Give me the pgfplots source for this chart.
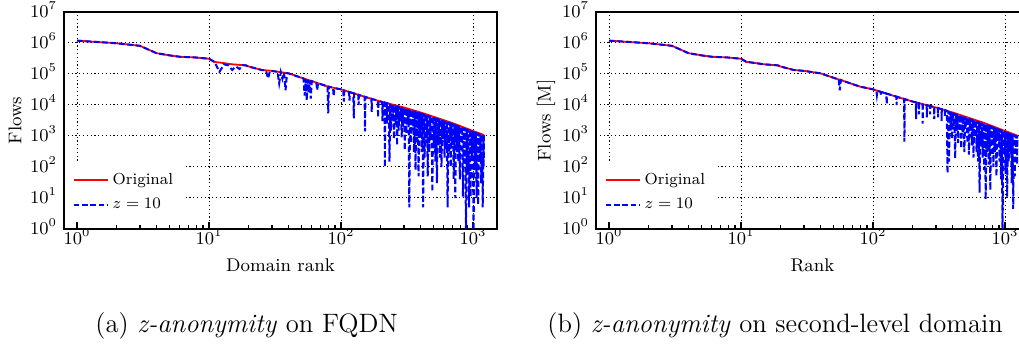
\documentclass[border=0pt]{standalone}
\usepackage{pgfplots}
\pgfplotsset{compat=1.18}
\begin{document}
\begin{tikzpicture}
\begin{axis}[at={(32pt,59pt)}, anchor=south west,
    scale only axis, width=216.5pt, height=108.5pt,
    xmode=log, ymode=log,
    xmin=0.797, xmax=1520, ymin=1, ymax=1e7,
    xtick={1,10,100,1000},
    ytick={1,10,100,1000,10000,100000,1000000,10000000},
    yminorticks=false,
    grid=major,
    major grid style={black, line width=0.5pt, dash pattern=on 0.6pt off 1.3pt},
    axis line style={line width=0.9pt},
    tick align=inside, xtick pos=bottom, ytick pos=left,
    major tick length=3.5pt, minor tick length=2pt,
    tick style={black, line width=0.6pt},
    ytick style={draw=none},
    tick label style={font=\fontsize{8.7}{10}\selectfont},
    xticklabel style={anchor=base, yshift=-7.8pt},
    yticklabel style={anchor=base east, yshift=-2.7pt},
    label style={font=\fontsize{9.2}{11}\selectfont},
    xlabel style={at={(axis description cs:0.5,-0.197)}, anchor=base},
    legend style={at={(axis description cs:0.005,0.032)}, anchor=south west,
      draw=none, fill=white, font=\fontsize{8}{9.6}\selectfont,
      inner xsep=3pt, inner ysep=3pt, row sep=1.5pt},
    legend cell align=left,
  xlabel={Domain rank}, ylabel={Flows},
  ylabel style={at={(axis description cs:-0.1132,0.5)}, anchor=center}]
\addplot[red, line width=0.9pt] coordinates {
(1,1190000) (2,980000) (3,810000) (4,470000) (5,400000) (6,360000) (8,340000)
(10,310000) (11,245000) (12,235000) (15,205000) (19,190000) (20,174000)
(25,135000) (30,126000) (40,105000) (50,76000) (60,59000) (80,39000)
(100,32000) (150,18600) (200,12900) (300,8300) (400,5750) (500,4200)
(700,2600) (1000,1450) (1210,1070)};
\addlegendentry{Original}
\addplot[blue, line width=1pt, dash pattern=on 2.8pt off 1.4pt] coordinates {
(1,1190000) (2,980000) (3,810000) (4,470000) (5,400000) (6,360000) (8,340000)
(10,310000) (11,245000) (12,118000) (13,205000) (14,190000) (15,135000)
(16,175000) (17,145000) (18,192000) (19,190000) (20,174000) (25,135000)
(27,131000) (28,72000) (29,128000) (33,118000) (34,50000) (35,114000)
(36,70000) (37,110000) (38,30000) (39,106000) (40,105000) (50,76000)
(52,72000) (53,20000) (54,68000) (55,14000) (56,65000) (57,25000)
(58,62000) (59,16000) (60,59000) (65,52000) (66,30000) (67,50000)
(79,40000) (80,5400) (81,39000) (87,36000) (88,19000) (89,35000)
(100,32000) (104,30000) (105,13000) (106,29300) (115,26300) (116,14000)
(117,25800) (124,23900) (125,3700) (126,23400) (135,21400) (136,10000)
(137,21000) (151,18500) (152,1400) (153,18100) (170,15900) (171,6000)
(172,15600) (190,13800) (191,4000) (192,13600) (200,12900) (205,12500)
(206,3000) (207,12400) (214,12000) (215,100) (216,11900) (222,11500)
(223,2500) (224,11400) (230,11080) (233,150) (236,10770) (239,1500)
(242,10480) (245,3000) (249,10170) (252,800) (256,9870) (259,2500)
(263,9580) (266,500) (270,9320) (273,1500) (277,9060) (281,3000)
(285,8790) (288,900) (292,8560) (296,2000) (300,8320) (304,350)
(308,8040) (312,1200) (317,7750) (321,2500) (325,7510) (329,5)
(334,7250) (338,600) (343,7000) (347,1500) (352,6780) (357,300)
(362,6540) (367,80) (372,6310) (377,700) (382,6100) (387,50)
(392,5900) (397,1000) (403,5690) (408,300) (414,5480) (419,5)
(425,5270) (430,200) (436,5080) (442,600) (448,4890) (454,50)
(460,4710) (466,300) (473,4520) (479,1000) (486,4350) (492,16)
(499,4190) (505,400) (512,4030) (519,150) (526,3880) (533,30)
(540,3730) (547,500) (555,3590) (562,200) (570,3450) (577,100)
(585,3330) (593,800) (601,3200) (609,200) (617,3080) (625,400)
(634,2960) (642,5) (651,2850) (660,300) (669,2740) (678,100)
(687,2640) (696,500) (705,2540) (714,40) (724,2430) (734,10)
(744,2330) (754,300) (764,2230) (774,150) (785,2140) (795,40)
(806,2050) (817,600) (828,1960) (839,11) (850,1880) (861,200)
(873,1800) (885,0.5) (897,1720) (909,60) (921,1650) (933,5)
(946,1580) (958,11) (971,1520) (984,200) (997,1450) (1010,0.5)
(1024,1390) (1038,80) (1052,1340) (1066,10) (1080,1280) (1094,6)
(1109,1230) (1124,150) (1139,1180) (1154,30) (1170,1130) (1185,5)
(1201,1080) (1205,100) (1210,1070)};
\addlegendentry{$z = 10$}
\end{axis}
\begin{axis}[at={(298pt,59pt)}, anchor=south west,
    scale only axis, width=216.5pt, height=108.5pt,
    xmode=log, ymode=log,
    xmin=0.797, xmax=1520, ymin=1, ymax=1e7,
    xtick={1,10,100,1000},
    ytick={1,10,100,1000,10000,100000,1000000,10000000},
    yminorticks=false,
    grid=major,
    major grid style={black, line width=0.5pt, dash pattern=on 0.6pt off 1.3pt},
    axis line style={line width=0.9pt},
    tick align=inside, xtick pos=bottom, ytick pos=left,
    major tick length=3.5pt, minor tick length=2pt,
    tick style={black, line width=0.6pt},
    ytick style={draw=none},
    tick label style={font=\fontsize{8.7}{10}\selectfont},
    xticklabel style={anchor=base, yshift=-7.8pt},
    yticklabel style={anchor=base east, yshift=-2.7pt},
    label style={font=\fontsize{9.2}{11}\selectfont},
    xlabel style={at={(axis description cs:0.5,-0.197)}, anchor=base},
    legend style={at={(axis description cs:0.005,0.032)}, anchor=south west,
      draw=none, fill=white, font=\fontsize{8}{9.6}\selectfont,
      inner xsep=3pt, inner ysep=3pt, row sep=1.5pt},
    legend cell align=left,
  xlabel={Rank}, ylabel={Flows [M]},
  ylabel style={at={(axis description cs:-0.1155,0.5)}, anchor=center}]
\addplot[red, line width=0.9pt] coordinates {
(1,1190000) (2,980000) (3,810000) (4,470000) (5,400000) (6,360000) (8,340000)
(10,310000) (11,245000) (12,235000) (15,205000) (19,190000) (20,174000)
(25,135000) (30,126000) (40,105000) (50,76000) (60,59000) (80,39000)
(100,32000) (150,18600) (200,12900) (300,8300) (400,5750) (500,4200)
(700,2600) (1000,1450) (1240,1030)};
\addlegendentry{Original}
\addplot[blue, line width=1pt, dash pattern=on 2.8pt off 1.4pt] coordinates {
(1,1190000) (2,980000) (3,810000) (4,470000) (5,400000) (6,360000) (8,340000)
(10,310000) (11,245000) (12,235000) (15,205000) (19,190000) (20,174000)
(25,135000) (30,126000) (40,105000) (50,76000) (55,66000) (56,30000)
(57,64000) (60,59000) (80,39000) (100,32000) (106,29300) (107,21000)
(108,29000) (114,26600) (115,21000) (116,26100) (126,23400) (127,10700)
(128,23100) (150,18700) (151,10000) (152,18400) (172,15600) (173,660)
(174,15500) (200,12900) (211,12200) (212,3500) (213,12100) (222,11500)
(223,5000) (224,11400) (237,10800) (238,2500) (239,10700) (255,9900)
(256,4000) (257,9850) (270,9320) (271,5000) (272,9280) (290,8600)
(291,3500) (292,8560) (310,7980) (311,4000) (312,7950) (330,7370)
(331,3000) (332,7300) (350,6800) (351,4500) (352,6780) (362,6540)
(367,63) (372,6310) (377,150) (382,6100) (387,1500) (392,5900)
(397,800) (403,5690) (408,2000) (414,5480) (419,190) (425,5270)
(430,1500) (436,5080) (442,600) (448,4890) (454,2500) (460,4710)
(466,400) (473,4520) (479,1200) (486,4350) (492,300) (499,4190)
(505,2000) (512,4030) (519,600) (526,3880) (533,250) (540,3730)
(547,1500) (555,3590) (562,500) (570,3450) (577,200) (585,3330)
(593,900) (601,3200) (609,300) (617,3080) (625,150) (634,2960)
(642,15) (651,2850) (660,500) (669,2740) (678,200) (687,2640)
(696,80) (705,2540) (714,9) (724,2430) (734,300) (744,2330)
(754,120) (764,2230) (774,18) (785,2140) (795,600) (806,2050)
(817,100) (828,1960) (839,300) (850,1880) (861,50) (873,1800)
(885,700) (897,1720) (909,150) (921,1650) (933,40) (946,1580)
(958,0.5) (971,1520) (984,250) (997,1450) (1010,60) (1024,1390)
(1038,11) (1052,1340) (1066,150) (1080,1280) (1094,300) (1109,1230)
(1124,30) (1139,1180) (1154,4.5) (1170,1130) (1185,50) (1201,1080)
(1216,300) (1232,1040) (1236,120) (1240,1030)};
\addlegendentry{$z = 10$}
\end{axis}
\node[anchor=base west, inner sep=0pt, font=\fontsize{13.3}{16}\selectfont] at (47.5pt,7pt) {(a) \textit{z-anonymity} on FQDN};
\node[anchor=base west, inner sep=0pt, font=\fontsize{13.3}{16}\selectfont] at (273.5pt,7pt) {(b) \textit{z-anonymity} on second-level domain};
\pgfresetboundingbox
\path[use as bounding box] (0pt,0pt) rectangle (509.5pt,173.5pt);
\end{tikzpicture}
\end{document}
